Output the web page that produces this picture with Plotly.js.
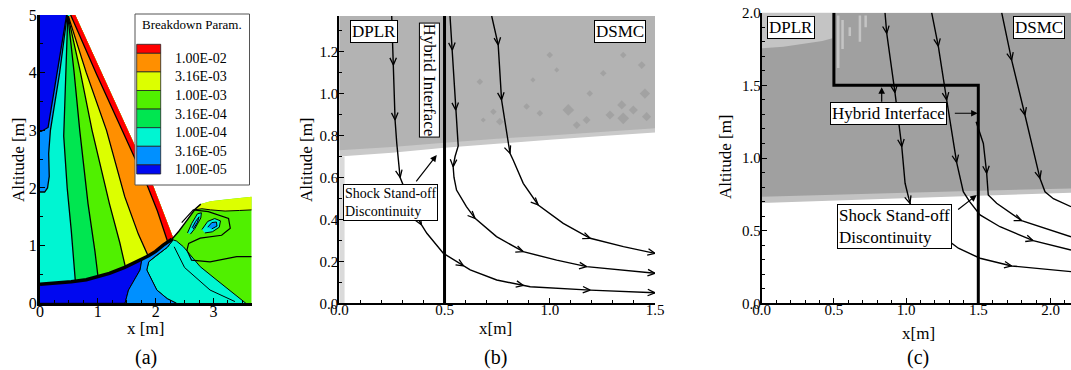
<!DOCTYPE html>
<html><head><meta charset="utf-8">
<script src="https://cdn.plot.ly/plotly-3.0.1.min.js"></script>
<style>html,body{margin:0;padding:0;background:#fff;overflow:hidden}#chart{width:1071px;height:370px}</style>
</head><body><div id="chart"></div>
<script>
// ================= DATA =================
// ---- Panel (a): breakdown parameter contours ----
const levelLabels = ['1.00E-02','3.16E-03','1.00E-03','3.16E-04','1.00E-04','3.16E-05','1.00E-05'];
const levelColors = ['#ff0000','#ff8f00','#dcff00','#50f000','#00e650','#00f5d2','#0090ff','#0008f0'];

const bodyX = [0, 0.3, 0.54, 0.8, 1.0, 1.2, 1.465, 1.7, 1.87, 2.0, 2.13, 2.28];
const bodyY = [0.33, 0.35, 0.375, 0.41, 0.46, 0.52, 0.624, 0.73, 0.82, 0.9, 1.01, 1.11];
const shockX = [0.61, 1.08, 1.53, 1.96, 2.13, 2.30];
const shockY = [5.0, 3.97, 2.98, 2.03, 1.6, 1.14];
// contour lines from the apex to the body (band boundaries)
const lineORx  = [0.53, 0.98, 1.43, 1.86, 2.03, 2.21];
const lineORy  = [5.0, 3.97, 2.98, 2.03, 1.6, 1.06];
const lineYOx  = [0.49, 0.80, 1.15, 1.465, 1.70, 1.87];
const lineYOy  = [4.98, 4.0, 3.0, 1.85, 1.2, 0.82];
const lineGYx  = [0.485, 0.70, 0.90, 1.2, 1.38, 1.476];
const lineGYy  = [4.98, 4.0, 3.0, 1.73, 1.05, 0.63];
const lineG2Gx = [0.482, 0.59, 0.687, 0.83, 0.95, 1.003];
const lineG2Gy = [4.98, 4.0, 3.0, 1.73, 0.9, 0.46];
const lineCG2x = [0.48, 0.444, 0.41, 0.47, 0.54, 0.611];
const lineCG2y = [4.98, 4.0, 2.9, 2.0, 1.27, 0.385];
const blueEdgeX  = [0.46, 0.30, 0.14, 0.02, 0];
const blueEdgeY  = [5.0, 4.0, 3.05, 2.98, 2.98];
const lblueEdgeX = [0.47, 0.34, 0.18, 0.15, 0.16, 0.13, 0.08, 0];
const lblueEdgeY = [5.0, 4.0, 3.0, 2.6, 2.2, 2.0, 1.93, 1.93];
// downstream region
const rightTopX = [2.28, 2.40, 2.55, 2.68, 2.78, 2.95, 3.2, 3.45, 3.66];
const rightTopY = [1.11, 1.25, 1.45, 1.63, 1.72, 1.77, 1.80, 1.83, 1.85];
const yellowEdgeX = [2.66, 2.80, 2.95, 3.2, 3.45, 3.66];
const yellowEdgeY = [1.62, 1.64, 1.62, 1.60, 1.61, 1.62];
const loop1X = [2.55, 2.62, 2.72, 2.79, 2.78, 2.68, 2.60];
const loop1Y = [1.22, 1.38, 1.55, 1.57, 1.48, 1.30, 1.20];
const loop1CoreX = [2.63, 2.69, 2.75, 2.72, 2.65];
const loop1CoreY = [1.31, 1.42, 1.50, 1.40, 1.29];
const loop2X = [2.80, 2.90, 3.02, 3.12, 3.10, 2.98, 2.85];
const loop2Y = [1.28, 1.42, 1.47, 1.43, 1.32, 1.24, 1.22];
const loop2CoreX = [2.90, 2.97, 3.05, 3.06, 2.97];
const loop2CoreY = [1.32, 1.40, 1.41, 1.34, 1.29];
const darkLightEdgeX = [1.47, 1.53, 1.73, 1.76];
const darkLightEdgeY = [0, 0.23, 0.578, 0.75];
const lightCyanEdgeX = [2.30, 2.2, 2.0, 1.88, 1.846, 1.93, 2.02, 2.2, 2.36];
const lightCyanEdgeY = [1.10, 0.97, 0.82, 0.72, 0.578, 0.40, 0.23, 0.08, 0];
const cyanGreenEdgeX = [2.36, 2.48, 2.77, 3.06, 3.34, 3.52, 3.56];
const cyanGreenEdgeY = [1.08, 0.98, 0.635, 0.40, 0.17, 0.03, 0];
const cyanInnerX = [2.32, 2.5, 2.94, 3.37];
const cyanInnerY = [0.98, 0.62, 0.23, 0.03];
const rightContourX = [2.45, 2.65, 2.91, 3.26, 3.29, 3.14, 2.77, 2.57, 2.54, 2.62, 2.94, 3.40, 3.66];
const rightContourY = [1.40, 1.62, 1.59, 1.47, 1.30, 1.18, 1.13, 1.04, 0.92, 0.75, 0.72, 0.81, 0.81];

// ---- Panel (b) ----
const bEdgeX = [0, 0.25, 0.5, 0.75, 1.0, 1.25, 1.5];
const bEdgeY = [0.73, 0.745, 0.765, 0.785, 0.80, 0.818, 0.835];
const bBandY = [0.70, 0.718, 0.742, 0.762, 0.78, 0.798, 0.815];
const bSpotX = [0.668,1.0,1.033,1.088,1.128,1.175,1.254,1.286,1.342,1.349,1.397,1.437,1.452,1.46,0.732,0.763,0.89,0.953,0.684,1.19,0.92,1.349];
const bSpotY = [1.057,1.184,1.113,0.922,0.85,0.874,1.097,0.898,0.946,0.882,0.922,1.136,1.0,0.89,0.914,0.866,0.938,0.906,0.874,1.0,1.065,1.184];
const bSpotS = [5,5,4,9,6,6,5,7,7,9,7,6,8,7,5,6,5,5,4,5,4,5];
const bInterfaceX = [0.5, 0.5];
const bInterfaceY = [0, 1.37];
const b1x = [0.249,0.257,0.265,0.273,0.289,0.313,0.36,0.39,0.416,0.495,0.59,0.622,0.748,0.875,0.907,1.192,1.5];
const b1y = [1.37,1.136,0.874,0.763,0.60,0.54,0.43,0.375,0.334,0.238,0.178,0.159,0.111,0.085,0.079,0.063,0.05];
const b1a = [0,1,1,0,1,0,0,1,0,0,1,0,0,1,0,1,1];
const b2x = [0.526,0.537,0.553,0.565,0.55,0.541,0.545,0.557,0.604,0.645,0.747,0.874,1.033,1.175,1.5];
const b2y = [1.37,1.208,0.922,0.75,0.70,0.651,0.60,0.54,0.461,0.405,0.318,0.246,0.206,0.175,0.143];
const b2a = [0,1,1,0,0,1,0,0,0,1,0,1,0,1,1];
const b3x = [0.724,0.755,0.771,0.803,0.811,0.826,0.874,0.945,1.064,1.192,1.35,1.5];
const b3y = [1.37,1.232,0.97,0.747,0.715,0.683,0.572,0.469,0.381,0.31,0.27,0.238];
const b3a = [0,1,1,0,1,0,0,1,0,1,0,1];

// ---- Panel (c) ----
const cEdgeX = [0, 0.5, 1.0, 1.5, 2.142];
const cEdgeY = [0.734, 0.745, 0.76, 0.775, 0.79];
const cBandY = [0.69, 0.705, 0.72, 0.74, 0.76];
const cLightX = [0, 0, 0.15, 0.3, 0.42, 0.49, 0.49];
const cLightY = [2.0, 1.755, 1.765, 1.785, 1.805, 1.825, 2.0];
const cStreakX = [0.53, 0.53, null, 0.56, 0.56, null, 0.68, 0.68, null, 0.72, 0.72, null, 0.61, 0.61];
const cStreakY = [1.98, 1.62, null, 1.95, 1.75, null, 1.98, 1.80, null, 1.98, 1.90, null, 1.90, 1.84];
const cInterfaceX = [0.5, 0.5, 1.5, 1.5];
const cInterfaceY = [2.0, 1.5, 1.5, 0];
const c1x = [0.854,0.866,0.923,0.97,0.993,1.027,1.05,1.2,1.362,1.512,1.731,1.9,2.142];
const c1y = [2.0,1.858,1.45,1.078,0.826,0.688,0.642,0.5,0.379,0.31,0.257,0.24,0.218];
const c1a = [0,1,1,1,0,1,0,0,0,0,1,0,0];
const c2x = [1.177,1.223,1.281,1.35,1.396,1.44,1.512,1.65,1.88,2.142];
const c2y = [2.0,1.77,1.40,0.97,0.768,0.70,0.608,0.527,0.431,0.367];
const c2a = [0,1,1,1,0,0,0,0,1,0];
const c3x = [1.485,1.535,1.558,1.569,1.627,1.80,2.142];
const c3y = [1.25,1.10,0.895,0.745,0.688,0.569,0.458];
const c3a = [0,0,1,0,0,1,0];
const c4x = [1.662,1.731,1.823,1.927,1.962,2.02,2.142];
const c4y = [2.0,1.674,1.296,0.86,0.768,0.72,0.665];
const c4a = [0,1,1,1,0,0,0];

// ================= LAYOUT GEOMETRY =================
const W = 1071, H = 370;
const F = '"Liberation Serif", "Times New Roman", serif';
const X = px => px / W, Y = py => 1 - py / H;
const dom = {
  a: {x:[40, 251.7], y:[303.3, 15], xr:[0, 3.66], yr:[0, 5]},
  b: {x:[339.3, 655], y:[303.3, 16], xr:[0, 1.5], yr:[0, 1.37]},
  c: {x:[761.7, 1071], y:[303.3, 12.7], xr:[0, 2.142], yr:[0, 2]}
};
function scale(d){ return {sx:(d.x[1]-d.x[0])/(d.xr[1]-d.xr[0]), sy:(d.y[0]-d.y[1])/(d.yr[1]-d.yr[0])}; }

// ================= HELPERS =================
const traces = [];
function poly(xs, ys, color, ax, outline){
  traces.push({x:xs, y:ys, type:'scatter', mode:'lines', fill:'toself', fillcolor:color,
    line:{color: outline ? 'black' : color, width: outline ? 1 : 0}, hoverinfo:'skip',
    xaxis:ax[0], yaxis:ax[1], showlegend:false});
}
function line(xs, ys, width, ax, color){
  traces.push({x:xs, y:ys, type:'scatter', mode:'lines', line:{color:color||'black', width:width, shape:'linear'},
    hoverinfo:'skip', xaxis:ax[0], yaxis:ax[1], showlegend:false});
}
function rev(a){ return a.slice().reverse(); }
function fanPoly(lx, ly){
  return [lx.concat([lx[lx.length-1], 2.45], rev(shockX)), ly.concat([0, 0.75], rev(shockY))];
}
function chevrons(xs, ys, flags, d, ax){
  const s = scale(d), L = 8, ang = 24*Math.PI/180;
  const cx = [], cy = [];
  for (let i=0;i<xs.length;i++){
    if(!flags[i]) continue;
    const j0 = Math.max(0,i-1), j1 = Math.min(xs.length-1,i+1);
    let dx = (xs[j1]-xs[j0])*s.sx, dy = (ys[j1]-ys[j0])*s.sy;
    const n = Math.hypot(dx,dy); dx/=n; dy/=n;
    const c = Math.cos(ang), sn = Math.sin(ang);
    const r1x = dx*c - dy*sn, r1y = dx*sn + dy*c;
    const r2x = dx*c + dy*sn, r2y = -dx*sn + dy*c;
    cx.push(xs[i]-L*r1x/s.sx, xs[i], xs[i]-L*r2x/s.sx, null);
    cy.push(ys[i]-L*r1y/s.sy, ys[i], ys[i]-L*r2y/s.sy, null);
  }
  line(cx, cy, 1.3, ax);
}
function stream(xs, ys, flags, d, ax){
  line(xs, ys, 1.4, ax);
  chevrons(xs, ys, flags, d, ax);
}

// ================= PANEL (a) =================
const A = ['x','y'];
const C = levelColors;
poly([0,0,2.45].concat(rev(shockX)), [5,0,0.75].concat(rev(shockY)), C[5], A);
[[lineCG2x,lineCG2y,C[4]],[lineG2Gx,lineG2Gy,C[3]],[lineGYx,lineGYy,C[2]],[lineYOx,lineYOy,C[1]],[lineORx,lineORy,C[0]]]
  .forEach(([lx,ly,col]) => { const p = fanPoly(lx,ly); poly(p[0], p[1], col, A); });
poly(lblueEdgeX.concat([0]), lblueEdgeY.concat([5]), C[6], A);
poly([0].concat(blueEdgeX), [5].concat(blueEdgeY), C[7], A);
[[lineCG2x,lineCG2y],[lineG2Gx,lineG2Gy],[lineGYx,lineGYy],[lineYOx,lineYOy],[lineORx,lineORy],
 [blueEdgeX,blueEdgeY],[lblueEdgeX,lblueEdgeY]].forEach(([lx,ly]) => line(lx, ly, 1.3, A));
poly(bodyX.concat(rightTopX.slice(1), [3.66, 0]), bodyY.concat(rightTopY.slice(1), [0, 0]), C[3], A);
poly(rightTopX.slice(3).concat(rev(yellowEdgeX)), rightTopY.slice(3).concat(rev(yellowEdgeY)), C[2], A);
line(yellowEdgeX, yellowEdgeY, 1, A);
poly(loop1X, loop1Y, C[5], A, true);
poly(loop1CoreX, loop1CoreY, C[6], A, true);
poly(loop2X, loop2Y, C[5], A, true);
poly(loop2CoreX, loop2CoreY, C[6], A, true);
poly(rev(lightCyanEdgeX).concat(cyanGreenEdgeX), rev(lightCyanEdgeY).concat(cyanGreenEdgeY), C[5], A, true);
const bIdxHi = bodyX.map((v,i)=>i).filter(i => bodyX[i] > 1.76);
const bIdxLo = bodyX.map((v,i)=>i).filter(i => bodyX[i] <= 1.76).reverse();
poly([0].concat(darkLightEdgeX, bIdxLo.map(i=>bodyX[i])), [0].concat(darkLightEdgeY, bIdxLo.map(i=>bodyY[i])), C[7], A, true);
poly(darkLightEdgeX.concat(bIdxHi.map(i=>bodyX[i]), lightCyanEdgeX), darkLightEdgeY.concat(bIdxHi.map(i=>bodyY[i]), lightCyanEdgeY), C[6], A, true);
line(cyanInnerX, cyanInnerY, 1, A);
line(rightContourX, rightContourY, 1.2, A);
line(rightTopX.slice(0,5), rightTopY.slice(0,5), 1.4, A);
line(bodyX, bodyY, 3.5, A);

// ================= PANEL (b) =================
const B = ['x2','y2'];
poly(bEdgeX.concat([1.5, 0]), bBandY.concat([1.37, 1.37]), '#c9c9c9', B);
poly(bEdgeX.concat([1.5, 0]), bEdgeY.concat([1.37, 1.37]), '#b3b3b3', B);
poly([0, 0.025, 0.025, 0], [0, 0, 0.70, 0.70], '#dadada', B);
traces.push({x:bSpotX, y:bSpotY, type:'scatter', mode:'markers', xaxis:'x2', yaxis:'y2', hoverinfo:'skip', showlegend:false,
  marker:{symbol:'diamond', size:bSpotS, color:'#9b9b9b', line:{width:0}}});
line(bInterfaceX, bInterfaceY, 3, B);
stream(b1x, b1y, b1a, dom.b, B);
stream(b2x, b2y, b2a, dom.b, B);
stream(b3x, b3y, b3a, dom.b, B);

// ================= PANEL (c) =================
const Cc = ['x3','y3'];
poly(cEdgeX.concat([2.142, 0]), cBandY.concat([2, 2]), '#c2c2c2', Cc);
poly(cEdgeX.concat([2.142, 0]), cEdgeY.concat([2, 2]), '#a0a0a0', Cc);
poly(cLightX, cLightY, '#c4c4c4', Cc);
line(cStreakX, cStreakY, 2.5, Cc, '#c4c4c4');
line(cInterfaceX, cInterfaceY, 3, Cc);
stream(c1x, c1y, c1a, dom.c, Cc);
stream(c2x, c2y, c2a, dom.c, Cc);
stream(c3x, c3y, c3a, dom.c, Cc);
stream(c4x, c4y, c4a, dom.c, Cc);

// ================= AXES =================
function axis(d, which, dtick, fmt, minor, lw, fs, standoff){
  const isX = which === 'x';
  const pxDom = isX ? [X(d.x[0]), Math.min(1, X(d.x[1]))] : [Y(d.y[0]), Y(d.y[1])];
  return {domain: pxDom, range: isX ? d.xr : d.yr, dtick: dtick, tick0: 0, tickformat: fmt,
    ticks:'inside', ticklen:5, tickwidth:1, tickcolor:'black', ticklabelstandoff: standoff,
    minor:{dtick:minor, ticks:'inside', ticklen:3, tickwidth:1, tickcolor:'black', showgrid:false},
    showline:true, linewidth:lw, linecolor:'black', mirror:false, zeroline:false, showgrid:false,
    tickfont:{family:F, size:fs, color:'black'}, fixedrange:true};
}
const layout = {
  width:W, height:H, margin:{l:0,r:0,t:0,b:0}, paper_bgcolor:'white', plot_bgcolor:'rgba(0,0,0,0)', showlegend:false,
  xaxis: Object.assign(axis(dom.a,'x',1,'',0.25,3,16,-9), {anchor:'y'}),
  yaxis: Object.assign(axis(dom.a,'y',1,'',0.5,3,16,-3), {anchor:'x'}),
  xaxis2: Object.assign(axis(dom.b,'x',0.5,'.1f',0.1,2,15,-8), {anchor:'y2'}),
  yaxis2: Object.assign(axis(dom.b,'y',0.2,'.1f',0.1,2,15,-4), {anchor:'x2'}),
  xaxis3: Object.assign(axis(dom.c,'x',0.5,'.1f',0.1,2,15,-8), {anchor:'y3'}),
  yaxis3: Object.assign(axis(dom.c,'y',0.5,'.1f',0.1,2,15,-4), {anchor:'x3'}),
  shapes: [], annotations: []
};
const ann = layout.annotations, shp = layout.shapes;
function ptext(text, px, py, size, opts){
  ann.push(Object.assign({text:text, x:X(px), y:Y(py), xref:'paper', yref:'paper', showarrow:false,
    xanchor:'center', yanchor:'middle', font:{family:F, size:size, color:'black'}}, opts||{}));
}
function dbox(text, x, y, ax, size, opts){
  ann.push(Object.assign({text:text, x:x, y:y, xref:ax[0], yref:ax[1], showarrow:false, xanchor:'center', yanchor:'middle',
    font:{family:F, size:size, color:'black'}, bgcolor:'white', bordercolor:'black', borderwidth:1, borderpad:1}, opts||{}));
}
function arrow(x, y, axx, ayy, ax){
  ann.push({text:'', x:x, y:y, ax:axx, ay:ayy, xref:ax[0], yref:ax[1], axref:ax[0], ayref:ax[1],
    showarrow:true, arrowhead:2, arrowsize:1.1, arrowwidth:1.2, arrowcolor:'black'});
}
ptext('x [m]', 145, 328, 17);
ptext('Altitude [m]', 18, 160, 17, {textangle:-90});
ptext('(a)', 146, 357, 20);
ptext('x[m]', 495, 328, 17);
ptext('Altitude [m]', 306, 160, 17, {textangle:-90});
ptext('(b)', 495, 357, 20);
ptext('x[m]', 918, 333, 17);
ptext('Altitude [m]', 725, 157, 17, {textangle:-90});
ptext('(c)', 918, 357, 20);

// legend of panel (a)
shp.push({type:'rect', xref:'paper', yref:'paper', x0:X(135), x1:X(249.5), y0:Y(185), y1:Y(14), fillcolor:'white', line:{color:'#555', width:1}, layer:'above'});
ptext('Breakdown Param.', 191.5, 24.5, 13);
const rowEdges = [44.3, 53.3, 71.9, 90.5, 109.1, 127.7, 146.3, 164.9, 174];
levelColors.forEach((col, i) => {
  shp.push({type:'rect', xref:'paper', yref:'paper', x0:X(136.7), x1:X(160.7), y0:Y(rowEdges[i+1]), y1:Y(rowEdges[i]),
    fillcolor:col, line:{color:'#222', width:0.8}, layer:'above'});
});
levelLabels.forEach((lab, i) => ptext(lab, 173.3, rowEdges[i+1] + 5, 14, {xanchor:'left'}));

dbox('DPLR', 0.167, 1.296, B, 17);
dbox('DSMC', 1.336, 1.296, B, 17);
dbox('Hybrid Interface', 0.427, 1.066, B, 17, {textangle:90, borderpad:0});
dbox('Shock Stand-off<br>Discontinuity', 0.245, 0.481, B, 14, {align:'left'});
arrow(0.463, 0.707, 0.36, 0.574, B);

dbox('DPLR', 0.206, 1.895, Cc, 17);
dbox('DSMC', 1.742, 1.895, Cc, 17, {xanchor:'left'});
dbox('Hybrid Interface', 0.877, 1.308, Cc, 17);
arrow(1.496, 1.308, 1.327, 1.308, Cc);
arrow(0.831, 1.487, 0.831, 1.376, Cc);
dbox('Shock Stand-off<br>Discontinuity', 0.923, 0.529, Cc, 17, {align:'left'});
arrow(1.489, 0.745, 1.35, 0.637, Cc);

Plotly.newPlot('chart', traces, layout, {staticPlot:true, displayModeBar:false});
</script>
</body></html>
